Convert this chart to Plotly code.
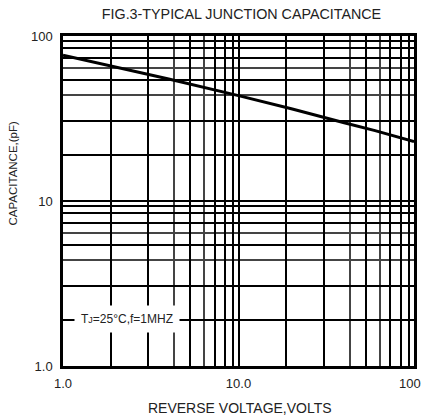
import math
import plotly.graph_objects as go

# Curve data (reverse voltage in V, capacitance in pF)
voltage = [1, 2, 4, 10, 20, 40, 60, 100]
capacitance = [76.5, 64.8, 54.9, 43.5, 36.2, 29.8, 26.7, 22.9]

# Grid line positions (multipliers within each decade)
decades = [1, 10]
x_grid_mult = [1.87, 3.06, 4.30, 5.32, 6.40, 7.32, 8.43, 9.33]
y_grid_mult = [1.90, 3.05, 4.36, 5.40, 6.40, 7.40, 8.46, 9.29]
light_idx = [2, 4]  # lines drawn lighter

x_tick_vals = [1, 10, 100]
x_tick_labels = ["1.0", "10.0", "100"]
y_tick_vals = [1, 10, 100]
y_tick_labels = ["1.0", "10", "100"]

title_text = "FIG.3-TYPICAL JUNCTION CAPACITANCE"
x_title = "REVERSE VOLTAGE,VOLTS"
y_title = "CAPACITANCE,(pF)"
cond_text = "T<span style='font-size:9px'>J</span>=25°C,f=1MHZ"
cond_x, cond_y = 2.33, 1.92


def grid(mults, idx_keep, idx_skip):
    vals = []
    for d in decades:
        for i, m in enumerate(mults):
            if (i in idx_skip) == idx_keep:
                vals.append(d * m)
    return vals


# last x label sits at the right edge of the page; it is drawn right-aligned below
x_major = x_tick_vals + grid(x_grid_mult, False, light_idx)
x_major_text = x_tick_labels[:-1] + [""] + [""] * (len(x_major) - len(x_tick_labels))
x_minor = grid(x_grid_mult, True, light_idx)
y_major = y_tick_vals + grid(y_grid_mult, False, light_idx)
y_major_text = y_tick_labels + [""] * (len(y_major) - len(y_tick_labels))
y_minor = grid(y_grid_mult, True, light_idx)

FONT = "Liberation Sans, Arial, sans-serif"

fig = go.Figure()
fig.add_trace(go.Scatter(x=voltage, y=capacitance, mode="lines",
                         line=dict(color="black", width=3), showlegend=False,
                         hoverinfo="skip"))

axis_common = dict(type="log", range=[0, 2], showline=True, mirror=True,
                   linecolor="black", linewidth=2.5, showgrid=True,
                   gridcolor="black", gridwidth=2, zeroline=False, ticks="",
                   automargin=False, ticklabeloverflow="allow",
                   tickfont=dict(family=FONT, size=13, color="#222"))

fig.update_xaxes(**axis_common, tickmode="array", tickvals=x_major,
                 ticktext=x_major_text, ticklabelstandoff=4,
                 minor=dict(tickmode="array", tickvals=x_minor, showgrid=True,
                            gridcolor="#444", gridwidth=2, ticks=""))
fig.update_yaxes(**axis_common, tickmode="array", tickvals=y_major,
                 ticktext=y_major_text, ticklabelstandoff=5,
                 minor=dict(tickmode="array", tickvals=y_minor, showgrid=True,
                            gridcolor="#444", gridwidth=2, ticks=""))

fig.add_annotation(x=1 + 7.5 / 351, y=-(383.5 - 366) / 330, xref="paper", yref="paper",
                   text=x_tick_labels[-1], showarrow=False, xanchor="right",
                   yanchor="middle", borderpad=0,
                   font=dict(family=FONT, size=13, color="#222"))
fig.add_annotation(x=math.log10(cond_x), y=math.log10(cond_y), xref="x", yref="y",
                   text=cond_text, showarrow=False, bgcolor="white",
                   borderpad=6, font=dict(family=FONT, size=12, color="#222"))
fig.add_annotation(x=(240 - 63) / 351, y=-(408 - 366) / 330, xref="paper", yref="paper",
                   text=x_title, showarrow=False, yanchor="middle",
                   font=dict(family=FONT, size=14, color="#222"))
fig.add_annotation(x=(12 - 63) / 351, y=(366 - 172.5) / 330, xref="paper", yref="paper",
                   text=y_title, showarrow=False, textangle=-90, xanchor="center",
                   yanchor="middle", font=dict(family=FONT, size=11.5, color="#222"))

fig.update_layout(
    width=422, height=419,
    margin=dict(l=63, r=8, t=36, b=53, autoexpand=False),
    paper_bgcolor="white", plot_bgcolor="white",
    title=dict(text=title_text, x=241.5 / 422, xref="container", xanchor="center",
               y=1 - 13.5 / 419, yref="container", yanchor="middle",
               font=dict(family=FONT, size=14.3, color="#222")),
)

fig.write_html("out.html", config={"displayModeBar": False},
               post_script="document.body.style.margin='0';")
